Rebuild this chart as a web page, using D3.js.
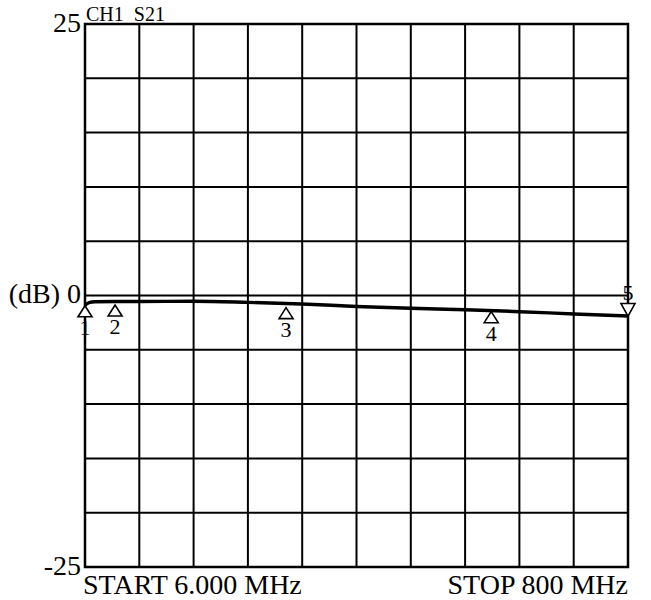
<!DOCTYPE html>
<html><head><meta charset="utf-8">
<script src="https://cdn.jsdelivr.net/npm/d3@7"></script>
<style>
html,body{margin:0;padding:0;background:#fff;}
svg{display:block;}
text{font-family:"Liberation Serif","Times New Roman",serif;fill:#000;}
</style></head>
<body><svg id="c" width="651" height="600"></svg>
<script>
// S21 trace (frequency MHz, dB)
const freqMHz = [6, 13, 20, 51, 85, 165, 244, 323, 403, 482, 562, 642, 721, 800];
const s21dB   = [-0.87, -0.64, -0.57, -0.55, -0.55, -0.53, -0.63, -0.78, -1.01, -1.18, -1.31, -1.49, -1.70, -1.89];
// markers
const markerNames = ["1", "2", "3", "4", "5"];
const markerFreq  = [6, 50, 300, 600, 800];
const markerDB    = [-0.94, -0.87, -1.12, -1.49, -1.89];
const markerDir   = ["up", "up", "up", "up", "down"];
// axis labels
const yTickValues = [25, 0, -25];
const yTickLabels = ["25", "(dB) 0", "-25"];
const channelLabel = "CH1  S21";
const startLabel = "START 6.000 MHz";
const stopLabel = "STOP 800 MHz";

const svg = d3.select("#c");
const L = 85, R = 628, T = 24, B = 567;
const x = d3.scaleLinear().domain([6, 800]).range([L, R]);
const y = d3.scaleLinear().domain([-25, 25]).range([B, T]);

// grid
const xGrid = d3.range(11).map(i => 6 + i * (800 - 6) / 10);
const yGrid = d3.range(-25, 26, 5);
svg.append("g").selectAll("line").data(xGrid).join("line")
  .attr("x1", d => x(d)).attr("x2", d => x(d)).attr("y1", T).attr("y2", B)
  .attr("stroke", "#000").attr("stroke-width", 2);
svg.append("g").selectAll("line").data(yGrid).join("line")
  .attr("y1", d => y(d)).attr("y2", d => y(d)).attr("x1", L).attr("x2", R)
  .attr("stroke", "#000").attr("stroke-width", 2);
svg.append("rect").attr("x", L).attr("y", T).attr("width", R - L).attr("height", B - T)
  .attr("fill", "none").attr("stroke", "#000").attr("stroke-width", 2.5);

// y labels
svg.append("g").selectAll("text").data(yTickValues).join("text")
  .attr("x", 81).attr("y", d => y(d) + 7.5)
  .attr("text-anchor", "end").attr("font-size", 28)
  .text((d, i) => yTickLabels[i]);

svg.append("text").attr("x", 86).attr("y", 20.5).attr("font-size", 20)
  .style("white-space", "pre").text(channelLabel);

svg.append("text").attr("x", 83).attr("y", 594).attr("font-size", 28).text(startLabel);
svg.append("text").attr("x", R).attr("y", 594).attr("font-size", 28)
  .attr("text-anchor", "end").text(stopLabel);

// trace
const data = freqMHz.map((f, i) => ({f, v: s21dB[i]}));
svg.append("path").datum(data)
  .attr("fill", "none").attr("stroke", "#000").attr("stroke-width", 3.4)
  .attr("stroke-linejoin", "round")
  .attr("d", d3.line().x(d => x(d.f)).y(d => y(d.v)).curve(d3.curveMonotoneX));

// markers
const mk = markerNames.map((n, i) => ({n, f: markerFreq[i], v: markerDB[i], dir: markerDir[i]}));
const g = svg.append("g").selectAll("g").data(mk).join("g")
  .attr("transform", d => `translate(${x(d.f)},${y(d.v)})`);
g.append("path")
  .attr("d", d => d.dir === "up" ? "M0,0 L-7,11 L7,11 Z" : "M0,0 L-7,-12.5 L7,-12.5 Z")
  .attr("fill", "#fff").attr("stroke", "#000").attr("stroke-width", 1.6);
g.append("text")
  .attr("text-anchor", "middle").attr("font-size", 22)
  .attr("y", d => d.dir === "up" ? 29 : -16)
  .text(d => d.n);
</script></body></html>
